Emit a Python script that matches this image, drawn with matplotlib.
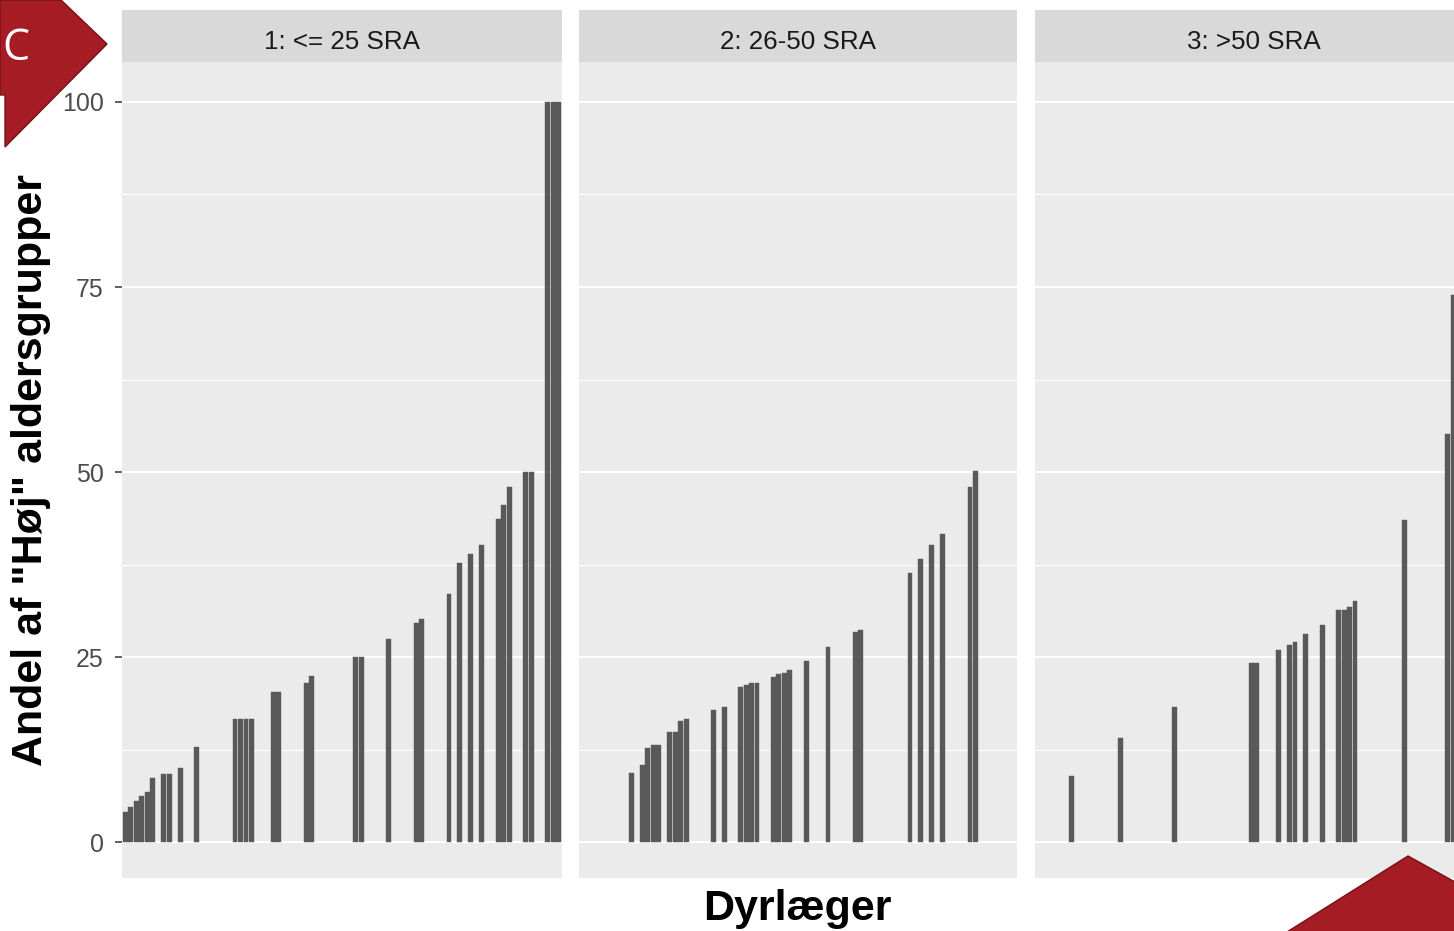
import matplotlib
matplotlib.use("Agg")
import matplotlib.pyplot as plt
from matplotlib.patches import Polygon

# figure size in pixels
W, H = 1454, 931

panel_titles = ["1: <= 25 SRA", "2: 26-50 SRA", "3: >50 SRA"]
n_dyrlaeger = 80
y_ticks = [0, 25, 50, 75, 100]

# Dyrlæge position (rank) and andel for each group
p1_dyrlaege = [1, 2, 3, 4, 5, 6, 8, 9, 11, 14, 21, 22, 23, 24, 28, 29, 34, 35,
               43, 44, 49, 54, 55, 60, 62, 64, 66, 69, 70, 71, 74, 75, 78, 79, 80]
p1_andel = [4.1, 4.8, 5.5, 6.2, 6.8, 8.6, 9.2, 9.2, 10.0, 12.8, 16.7, 16.7, 16.7, 16.7,
            20.3, 20.3, 21.5, 22.4, 25.0, 25.0, 27.5, 29.6, 30.2, 33.5, 37.7, 38.9,
            40.1, 43.7, 45.6, 48.0, 50.0, 50.0, 100, 100, 100]

p2_dyrlaege = [10, 12, 13, 14, 15, 17, 18, 19, 20, 25, 27, 30, 31, 32, 33, 36, 37, 38,
               39, 42, 46, 51, 52, 61, 63, 65, 67, 72, 73]
p2_andel = [9.4, 10.4, 12.7, 13.1, 13.1, 14.9, 14.9, 16.4, 16.7, 17.9, 18.2, 20.9, 21.2,
            21.5, 21.5, 22.3, 22.7, 22.8, 23.2, 24.5, 26.3, 28.4, 28.6, 36.3, 38.3, 40.1,
            41.6, 48.0, 50.1]

p3_dyrlaege = [7, 16, 26, 40, 41, 45, 47, 48, 50, 53, 56, 57, 58, 59, 68, 76, 77]
p3_andel = [8.9, 14.0, 18.2, 24.2, 24.2, 26.0, 26.6, 27.1, 28.1, 29.3, 31.4, 31.4, 31.7,
            32.6, 43.5, 55.1, 73.9]

plt.rcParams['font.family'] = ['Liberation Sans', 'DejaVu Sans']

fig = plt.figure(figsize=(W / 100, H / 100), dpi=100)


def px_rect(left, top, width, height):
    return [left / W, 1 - (top + height) / H, width / W, height / H]


panel_left = [122, 579, 1035]
panel_width = [440, 438, 438]
panel_top, panel_height = 62, 816
strip_top, strip_height = 10, 52

data = [(p1_dyrlaege, p1_andel), (p2_dyrlaege, p2_andel), (p3_dyrlaege, p3_andel)]

for i, (xs, ys) in enumerate(data):
    ax = fig.add_axes(px_rect(panel_left[i], panel_top, panel_width[i], panel_height))
    ax.set_facecolor('#EBEBEB')
    ax.bar(xs, ys, width=0.9, color='#595959', edgecolor='#595959', linewidth=0.3)
    ax.set_xlim(0.4, n_dyrlaeger + 0.6)
    ax.set_ylim(-4.85, 105.4)
    ax.set_yticks(y_ticks)
    ax.set_yticks([12.5, 37.5, 62.5, 87.5], minor=True)
    ax.set_axisbelow(True)
    ax.grid(which='major', axis='y', color='white', linewidth=1.5)
    ax.grid(which='minor', axis='y', color='white', linewidth=0.8)
    ax.set_xticks([])
    for sp in ax.spines.values():
        sp.set_visible(False)
    ax.tick_params(axis='y', which='minor', length=0)
    if i == 0:
        ax.tick_params(axis='y', which='major', length=5, width=1.1, color='#333333',
                       pad=8, labelsize=18, labelcolor='#4D4D4D')
    else:
        ax.tick_params(axis='y', which='major', length=0, labelleft=False)

    # facet strip
    st = fig.add_axes(px_rect(panel_left[i], strip_top, panel_width[i], strip_height))
    st.set_facecolor('#D9D9D9')
    st.set_xticks([])
    st.set_yticks([])
    for sp in st.spines.values():
        sp.set_visible(False)
    st.text(0.5, 0.25, panel_titles[i], transform=st.transAxes, ha='center',
            va='baseline', fontsize=18.7, color='#1A1A1A')

fig.text(797.5 / W, 1 - 920 / H, "Dyrlæger", ha='center', va='baseline',
         fontsize=31, fontweight='bold')
fig.text(31 / W, 1 - 470 / H, 'Andel af "Høj" aldersgrupper', ha='center', va='center',
         rotation=90, fontsize=31, fontweight='bold')

# slide decorations on top
deco = fig.add_axes([0, 0, 1, 1], zorder=10)
deco.set_xlim(0, W)
deco.set_ylim(H, 0)
deco.axis('off')
deco.patch.set_alpha(0)
deco.add_patch(Polygon([(0, 0), (61, 0), (107, 44), (5, 147), (5, 95), (0, 95)],
                       closed=True, facecolor='#A51C24', edgecolor='#751116', linewidth=1))
deco.add_patch(Polygon([(1287, 932), (1408, 856), (1455, 882), (1455, 932)],
                       closed=True, facecolor='#A51C24', edgecolor='#751116', linewidth=1))
deco.text(2, 60, "C", ha='left', va='baseline', fontsize=31, color='white',
          family=['Open Sans', 'DejaVu Sans'])

fig.savefig('out.png', dpi=100)
